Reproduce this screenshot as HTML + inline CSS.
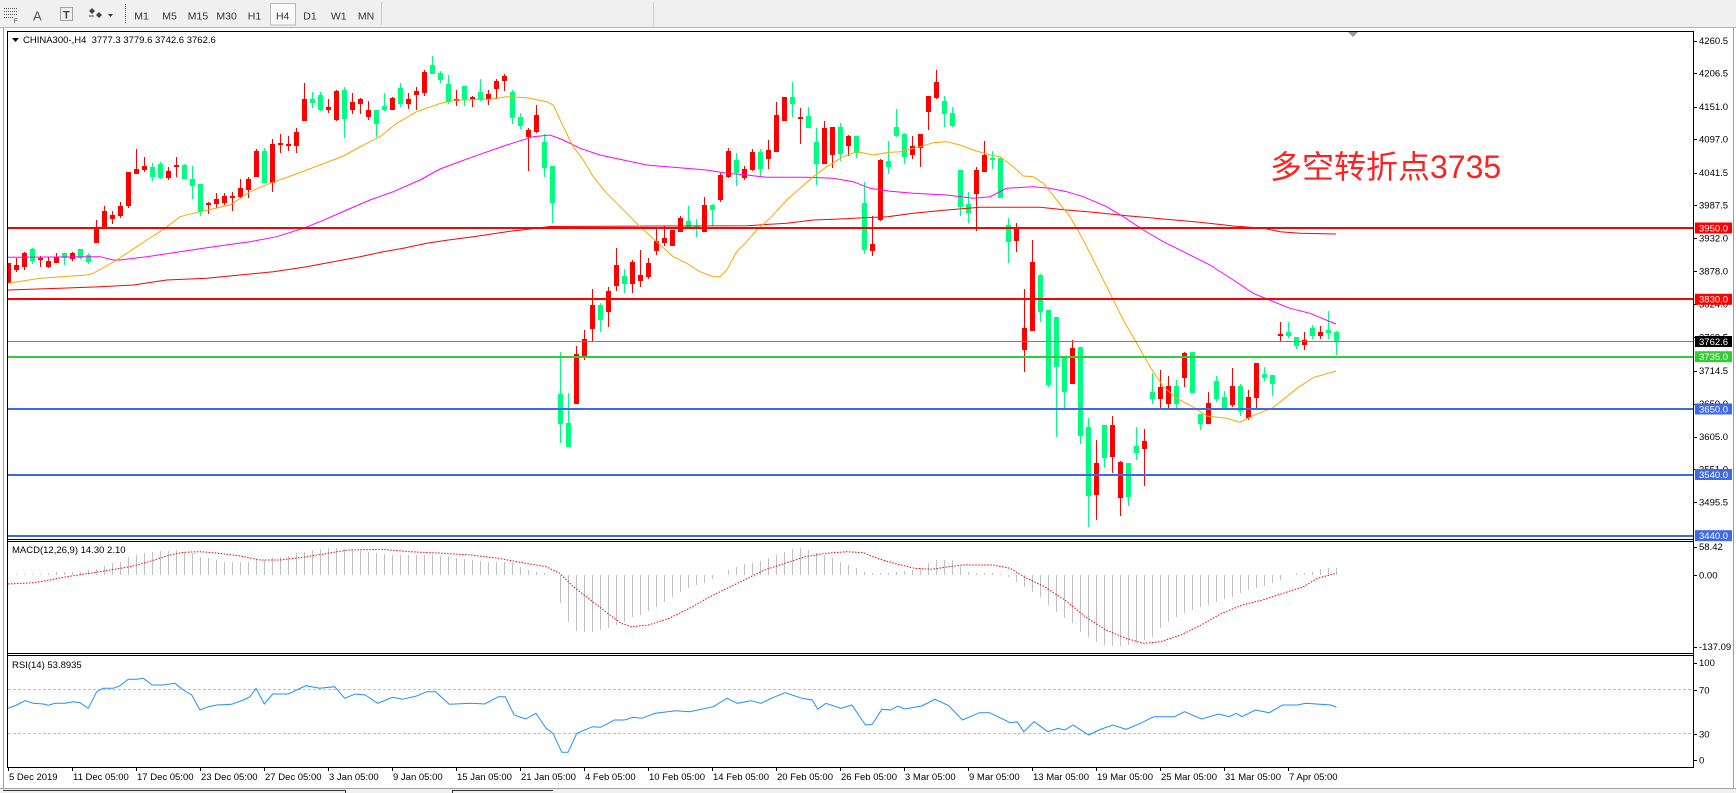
<!DOCTYPE html>
<html><head><meta charset="utf-8">
<style>
html,body{margin:0;padding:0;background:#fff;overflow:hidden;}
svg{display:block;}
text{font-family:"Liberation Sans",sans-serif;}
.ax{font-size:9.5px;fill:#000;}
.tb{font-size:10.5px;fill:#333;text-anchor:middle;}
.bx{font-size:9.5px;fill:#fff;}
</style></head><body>
<svg id="c" width="1736" height="793" viewBox="0 0 1736 793" xmlns="http://www.w3.org/2000/svg">
<defs>
<clipPath id="cm"><rect x="8" y="32" width="1685" height="507"/></clipPath>
<clipPath id="cd"><rect x="8" y="542" width="1685" height="111"/></clipPath>
<clipPath id="cr"><rect x="8" y="656" width="1685" height="111"/></clipPath>
</defs>
<rect x="0" y="0" width="1736" height="793" fill="#fff"/>
<!-- toolbar -->
<rect x="0" y="0" width="1736" height="28" fill="#f0f0f0"/>
<rect x="0" y="27" width="1736" height="1" fill="#b4b4b4"/>
<rect x="653" y="2" width="1" height="24" fill="#d0d0d0"/>
<g stroke="#555" stroke-width="1" stroke-dasharray="1,1" shape-rendering="crispEdges">
<line x1="4" y1="8.5" x2="17" y2="8.5"/><line x1="4" y1="11.5" x2="17" y2="11.5"/><line x1="4" y1="14.5" x2="17" y2="14.5"/><line x1="4" y1="17.5" x2="13" y2="17.5"/>
<rect x="60.5" y="7.5" width="12" height="13" fill="none"/>
<line x1="125.5" y1="4" x2="125.5" y2="24"/>
</g>
<text x="14" y="23" style="font-size:6px;fill:#333">F</text>
<text x="33" y="20.5" style="font-size:13px;fill:#555">A</text>
<text x="63" y="18.5" style="font-size:11px;fill:#444;font-weight:bold">T</text>
<polygon points="92,8 95,11 92,14 89,11" fill="#444"/>
<polygon points="99,12 102,15 99,18 96,15" fill="#444"/>
<line x1="89" y1="16" x2="94" y2="16" stroke="#444"/>
<polygon points="108,14 113,14 110.5,17" fill="#333"/>
<rect x="270.5" y="3.5" width="25" height="21.5" fill="#fafafa" stroke="#b8b8b8"/>
<rect x="381" y="2" width="1" height="23" fill="#c8c8c8"/>
<text class="tb" x="141.6" y="19.3">M1</text>
<text class="tb" x="169.5" y="19.3">M5</text>
<text class="tb" x="198" y="19.3">M15</text>
<text class="tb" x="226.6" y="19.3">M30</text>
<text class="tb" x="254.5" y="19.3">H1</text>
<text class="tb" x="282.7" y="19.3">H4</text>
<text class="tb" x="310" y="19.3">D1</text>
<text class="tb" x="338.7" y="19.3">W1</text>
<text class="tb" x="366" y="19.3">MN</text>
<!-- window borders -->
<rect x="3" y="28" width="1" height="760" fill="#a0a0a0"/>
<rect x="1733" y="28" width="1" height="760" fill="#a0a0a0"/>
<rect x="0" y="788" width="1736" height="5" fill="#f0f0f0"/>
<rect x="0" y="788" width="1736" height="1" fill="#a0a0a0"/>
<rect x="3" y="790" width="343" height="1" fill="#333"/>
<rect x="345" y="790" width="1" height="3" fill="#333"/>
<rect x="452" y="790" width="101" height="1" fill="#333"/>
<rect x="452" y="790" width="1" height="3" fill="#333"/>

<!-- main pane content -->
<g clip-path="url(#cm)" id="main" shape-rendering="crispEdges"></g>
<g clip-path="url(#cm)" id="mas" fill="none" stroke-width="1"></g>
<g clip-path="url(#cm)" shape-rendering="crispEdges">
<rect x="8" y="227" width="1685" height="2" fill="#FF0000"/>
<rect x="8" y="298" width="1685" height="2" fill="#FF0000"/>
<rect x="8" y="341" width="1685" height="1" fill="#808080"/>
<rect x="8" y="356" width="1685" height="2" fill="#32CD32"/>
<rect x="8" y="408" width="1685" height="2" fill="#4169E1"/>
<rect x="8" y="474" width="1685" height="2" fill="#4169E1"/>
<rect x="8" y="535" width="1685" height="2" fill="#4169E1"/>
</g>
<polygon points="1348,32 1358,32 1353,37" fill="#999"/>
<text x="1270" y="178" style="font-family:'Liberation Sans','Noto Sans CJK SC',sans-serif;font-size:32px;fill:#FF2020">多空转折点3735</text>
<polygon points="12,38 19,38 15.5,42" fill="#000"/>
<text class="ax" x="23" y="43">CHINA300-,H4&#160; 3777.3 3779.6 3742.6 3762.6</text>

<!-- MACD -->
<g clip-path="url(#cd)" id="macd"></g>
<text class="ax" x="12" y="552.8">MACD(12,26,9) 14.30 2.10</text>
<!-- RSI -->
<g clip-path="url(#cr)" id="rsi">
<line x1="8" y1="689.5" x2="1693" y2="689.5" stroke="#c0c0c0" stroke-dasharray="3,2"/>
<line x1="8" y1="733.5" x2="1693" y2="733.5" stroke="#c0c0c0" stroke-dasharray="3,2"/>
</g>
<text class="ax" x="12" y="667.8">RSI(14) 53.8935</text>

<!-- frames -->
<g fill="#000" shape-rendering="crispEdges">
<rect x="7" y="31" width="1687" height="1"/>
<rect x="7" y="539" width="1687" height="1"/>
<rect x="7" y="541" width="1687" height="1"/>
<rect x="7" y="653" width="1687" height="1"/>
<rect x="7" y="655" width="1687" height="1"/>
<rect x="7" y="767" width="1687" height="1"/>
<rect x="7" y="31" width="1" height="737"/>
<rect x="1693" y="31" width="1" height="737"/>
</g>
<g id="ticks" fill="#000" shape-rendering="crispEdges"></g>

<!-- price axis labels -->
<g class="ax">
<text class="ax" x="1699" y="44.1">4260.5</text>
<text class="ax" x="1699" y="76.7">4206.5</text>
<text class="ax" x="1699" y="110.1">4151.0</text>
<text class="ax" x="1699" y="142.7">4097.0</text>
<text class="ax" x="1699" y="176.1">4041.5</text>
<text class="ax" x="1699" y="208.7">3987.5</text>
<text class="ax" x="1699" y="241.7">3932.0</text>
<text class="ax" x="1699" y="274.7">3878.0</text>
<text class="ax" x="1699" y="307.4">3824.0</text>
<text class="ax" x="1699" y="340.4">3769.5</text>
<text class="ax" x="1699" y="374.1">3714.5</text>
<text class="ax" x="1699" y="407">3659.0</text>
<text class="ax" x="1699" y="440.1">3605.0</text>
<text class="ax" x="1699" y="472.7">3551.0</text>
<text class="ax" x="1699" y="505.7">3495.5</text>
<text class="ax" x="1699" y="550">58.42</text>
<text class="ax" x="1699" y="578.4">0.00</text>
<text class="ax" x="1699" y="650.1">-137.09</text>
<text class="ax" x="1699" y="666.1">100</text>
<text class="ax" x="1699" y="693.4">70</text>
<text class="ax" x="1699" y="737.4">30</text>
<text class="ax" x="1699" y="763.4">0</text>
</g>
<rect x="1695" y="222.5" width="37" height="11" fill="#FF0000"/><text class="bx" x="1699" y="231.4">3950.0</text>
<rect x="1695" y="293.8" width="37" height="11" fill="#FF0000"/><text class="bx" x="1699" y="302.7">3830.0</text>
<rect x="1695" y="336" width="37" height="11" fill="#000"/><text class="bx" x="1699" y="344.9">3762.6</text>
<rect x="1695" y="351.2" width="37" height="11" fill="#32CD32"/><text class="bx" x="1699" y="360.1">3735.0</text>
<rect x="1695" y="403.5" width="37" height="11" fill="#4169E1"/><text class="bx" x="1699" y="412.4">3650.0</text>
<rect x="1695" y="469" width="37" height="11" fill="#4169E1"/><text class="bx" x="1699" y="477.9">3540.0</text>
<rect x="1695" y="530.2" width="37" height="11" fill="#4169E1"/><text class="bx" x="1699" y="539.1">3440.0</text>

<!-- time labels -->
<g class="ax">
<text class="ax" x="9" y="780.2">5 Dec 2019</text>
<text class="ax" x="73" y="780.2">11 Dec 05:00</text>
<text class="ax" x="137" y="780.2">17 Dec 05:00</text>
<text class="ax" x="201" y="780.2">23 Dec 05:00</text>
<text class="ax" x="265" y="780.2">27 Dec 05:00</text>
<text class="ax" x="329" y="780.2">3 Jan 05:00</text>
<text class="ax" x="393" y="780.2">9 Jan 05:00</text>
<text class="ax" x="457" y="780.2">15 Jan 05:00</text>
<text class="ax" x="521" y="780.2">21 Jan 05:00</text>
<text class="ax" x="585" y="780.2">4 Feb 05:00</text>
<text class="ax" x="649" y="780.2">10 Feb 05:00</text>
<text class="ax" x="713" y="780.2">14 Feb 05:00</text>
<text class="ax" x="777" y="780.2">20 Feb 05:00</text>
<text class="ax" x="841" y="780.2">26 Feb 05:00</text>
<text class="ax" x="905" y="780.2">3 Mar 05:00</text>
<text class="ax" x="969" y="780.2">9 Mar 05:00</text>
<text class="ax" x="1033" y="780.2">13 Mar 05:00</text>
<text class="ax" x="1097" y="780.2">19 Mar 05:00</text>
<text class="ax" x="1161" y="780.2">25 Mar 05:00</text>
<text class="ax" x="1225" y="780.2">31 Mar 05:00</text>
<text class="ax" x="1289" y="780.2">7 Apr 05:00</text>
</g>
</svg>
<script>
(function(){
const NS='http://www.w3.org/2000/svg';
function el(p,t,a){const e=document.createElementNS(NS,t);for(const k in a)e.setAttribute(k,a[k]);p.appendChild(e);return e;}
const C=[
[1,263.3,281.7,263.3,281.7],[1,265.3,269.3,258.3,270.7],[1,252.7,266,251.7,268.7],[0,249.3,260,248,263.3],[1,258.3,259.3,256,266],
[1,260.7,266,256.7,266.7],[1,256.7,261.7,252.7,261.7],[0,253.3,257.3,253.3,264],[1,253.3,258.3,251.7,260],[0,249.3,256.7,249.3,258.3],
[0,255,260.7,252.7,262.7],[1,228.3,241.7,220,241.7],[1,211,228.3,205.7,228.3],[1,215,217.7,210.7,222.7],[1,205.7,215,202.3,216.7],
[1,172,205,172,206.7],[1,169,172.7,148.7,173.3],[1,166,168.7,157,170.7],[0,167,176,162.7,180],[0,164,177,162.3,177.7],
[1,171,176.7,166.7,178.7],[1,165,166.3,156.7,176],[0,165,177.7,164.3,177.7],[0,179,185,166,197.7],[0,184,211,184,215],
[1,202.7,204.3,201.7,212.7],[1,199,203.3,193.3,206.7],[1,196,202.3,192.7,204.3],[1,196,196.7,191.7,210],[1,188,195.7,179,196.7],
[1,179,189,177,196.7],[1,150.7,176,149,176],[0,151,181.7,147.7,181.7],[1,144,182,139,190.7],[1,143.3,144.3,134.3,151.7],
[1,144.3,145.3,136,150],[1,132,144.7,128.3,151.7],[1,99,120,82.7,120],[0,99,101.7,91.7,106.7],[0,95,109.3,91.7,110],
[1,106.7,109,99,111.7],[1,90.7,119.3,90,120],[0,90,117.7,87.3,136.7],[1,101.7,109.3,93.3,113.3],[1,99.3,102.7,97.7,112.7],
[1,110,116,101,119],[0,110,122.7,110,136],[0,106,109.3,92.7,110],[1,97.7,108.7,96.7,108.7],[0,88.3,102.7,83.3,106],
[1,99.3,102.7,93.3,108.3],[1,90.7,94,86.7,109],[1,71.7,92.3,70,95],[0,65,73.3,55.7,73.3],[0,72.7,79,70.7,81.7],
[0,84,101,75,103.3],[1,99,100.3,90,105],[0,86,99.3,86,105],[1,96.7,98.3,96,106],[0,92,99.3,79,100],
[1,94,97.7,90,104],[1,81,87.7,79.3,98.3],[1,75.7,80,74,90],[0,92,116.7,90,123.3],[0,117.3,125,113.3,127.7],
[1,130,136,128.3,170],[1,115,131,105,131.7],[0,142,166.7,134,176],[0,166,201.7,166,222],[0,394,423.3,352,441.7],
[0,423.3,445.7,393.3,445.7],[1,354,403.3,346,403.3],[1,339.3,356.7,330,359],[1,305,327.7,289.3,340],[0,305,319,303.3,330.7],
[1,291,310.7,286.7,325.7],[1,265,285,248.3,290],[0,276,283.3,269,292.3],[1,261.7,282.7,260,291.7],[1,275,280,250,286],
[1,262.7,276,258.3,278.3],[1,241,250,228.3,254.3],[1,237.7,241.7,225.7,245],[1,230,245,230,245],[1,217.7,230.7,216,230.7],
[0,221,226.7,205.7,226.7],[0,225.7,226.7,219.3,236],[1,205,230.7,196.7,230.7],[0,205,209,204,225],[1,175,199,173.3,200.7],
[1,151,175.7,148.3,176.7],[0,160,172.3,152.7,185],[1,169,176.7,166,179.3],[1,152,169,149.3,170],[0,152,168.3,149.3,175],
[1,150,157.7,140,167.7],[1,115,150.7,102.3,150.7],[1,97.3,120,97.3,120],[0,97.3,102.7,82.3,115.7],[1,117.3,118,108.3,142.7],
[0,116,126.7,107.3,126.7],[0,142,162.7,128.3,184],[1,128.3,162.7,121,162.7],[1,127.3,154,127.3,166.7],[0,127.3,152.7,123.3,160],
[1,136,145,135,155],[0,136,151.7,136,156.7],[0,203.3,249,182.3,252.7],[1,244,250,216,255],[1,160,219,159,220],
[0,161,166,141,172.7],[0,127.3,135,109.3,136],[0,134,155.7,132.7,162.7],[1,146,154,136,158.3],[1,134,147.3,134,166],
[1,96,111,96,129],[1,82,96.7,70,97.7],[0,101,113.3,96,125.7],[0,112.7,125,106.7,126],[0,170,205.7,170,215],
[0,204,211.7,192.3,221.7],[1,170,192.7,167.3,230],[1,155,170.7,141,170.7],[0,157.7,159.3,150.7,168.3],[0,158.3,197.3,158.3,197.3],
[0,225,240.7,218.3,261.7],[1,228.3,240,223.3,250.7],[1,327.7,349,289.3,371],[1,261.7,330,240,330],[0,275,310.7,274,320.7],
[0,310,384,310,386],[0,317.3,365.7,317.3,436],[0,357.3,391,357.3,408.3],[1,347.7,382.7,340,382.7],[0,347.3,435,346.7,442.7],
[0,426.7,495,418.3,525.7],[1,462.7,494,440,519],[0,425,456.7,425,466.7],[1,425,456,416,471.7],[1,461.7,496.7,460.7,515],
[0,463.3,495.7,463.3,505],[0,446,451.7,426.7,459],[1,441,447.7,429,485],[0,392.3,397.7,372.7,402.7],[1,387.3,398.3,370,408.3],
[1,386,403.3,376,408.3],[0,386,403.3,380,407.3],[1,352.7,376.7,351.7,386],[0,352.3,391.7,352.3,391.7],[0,414,423.3,414,429.3],
[1,402.7,423.3,392.3,423.3],[0,381,397.7,376,400.7],[0,397.3,407.3,391,408.3],[1,386,404.3,368.3,406],[0,386,410,384,415],
[1,397.3,417.3,390,419.3],[1,362.7,397.3,362.7,408.3],[0,374,376.7,367.3,380],[0,375,383.3,375,395],[1,333.7,334.7,322,341.3],
[0,332,334.7,322.3,336.7],[0,337,344.7,337,347.7],[1,340,344.3,331.7,349.3],[0,328,335,325,337.7],[1,332,334.7,326,337.7],
[0,330,332.3,311,337.7],[0,332,341.3,331,354]
];
let rw='',rb='',gw='',gb='';
C.forEach((d,i)=>{
  const cx=8+8*i;
  const wT=Math.round(d[3]),wB=Math.round(d[4]);
  let bT=Math.round(d[1]),bB=Math.round(d[2]); if(bB<bT)bB=bT;
  const w='M'+cx+','+wT+'h1V'+(wB+1)+'h-1Z';
  const b='M'+(cx-2)+','+bT+'h5V'+(bB+1)+'h-5Z';
  if(d[0]){rw+=w;rb+=b;}else{gw+=w;gb+=b;}
});
const gm=document.getElementById('main');
el(gm,'path',{d:gw+gb,fill:'#00FF7F'});
el(gm,'path',{d:rw+rb,fill:'#FF0000'});

function pl(parent,pts,color,extra){const a={points:pts.map(p=>p.join(',')).join(' '),fill:'none',stroke:color,'stroke-width':1};for(const k in (extra||{}))a[k]=extra[k];return el(parent,'polyline',a);}
const gmas=document.getElementById('mas');
const RED=[[8,290],[60,288.3],[100,286.7],[133.3,285],[166.7,280],[206.7,278.3],[240,275],[273.3,271.7],[306.7,266.7],[333.3,261.7],[360,256.7],[383.3,251.7],[403.3,248.3],[426.7,243.3],[448.3,240],[473.3,236.7],[506.7,231.7],[530,229],[550,226.5],[650,226],[746.7,225.7],[786.7,223.3],[813.3,220],[840,219],[863.3,217.7],[888,216.7],[913.3,213.3],[946.7,210],[980,207.3],[1040,207.3],[1066.7,210],[1093.3,212.3],[1126.7,215.7],[1163.3,219],[1200,222.3],[1233.3,226],[1263.3,228.3],[1280,231.7],[1300,233.3],[1336,234]];
const MAG=[[8,257.3],[100,256.7],[113.3,260],[120,260],[146.7,256.7],[180,251.7],[213.3,246.7],[250,241.7],[276.7,236.7],[303.3,228.3],[320,221.7],[346.7,210],[370,200],[393.3,191.7],[420,180],[440,169],[473.3,156.7],[506.7,145],[533.3,136.7],[550,135],[563.3,140],[580,148.3],[600,155],[623.3,160],[646.7,165],[673.3,167.3],[706.7,170],[726.7,173.3],[746.7,175],[766.7,177.3],[806.7,177.3],[833.3,178.3],[853.3,181.7],[870,188.3],[888,191],[913.3,193.3],[946.7,195],[973.3,198.3],[990,196.7],[1006.7,188.3],[1033.3,186.7],[1050,188.3],[1066.7,191.7],[1083.3,196.7],[1106.7,206.7],[1123.3,216.7],[1143.3,230],[1163.3,241.7],[1186.7,253.3],[1210,265],[1233.3,280],[1253.3,293.3],[1271.7,301],[1290,308.3],[1310,313.3],[1336,324]];
const ORA=[[8,283.3],[40,278.3],[86.7,275],[93.3,273.3],[116.7,260],[146.7,240],[165,228.3],[180,216.7],[200,211.7],[230,205],[250,191.7],[270,183.3],[293.3,175],[320,165],[343.3,156],[366.7,143.3],[380,136.7],[396.7,123.3],[416.7,111.7],[440,103.5],[456.7,100],[490,99.3],[506.7,96.7],[526.7,97.7],[546.7,101.7],[553.3,105],[563.3,126.7],[573.3,146.7],[583.3,160],[593.3,176.7],[606.7,193.3],[626.7,213.3],[640,226.7],[656.7,241.7],[673.3,256.7],[686.7,263.3],[700,271.7],[713.3,276.7],[720,276.7],[726.7,270],[736.7,251.7],[746.7,241.7],[756.7,230],[770,218.3],[786.7,200],[800,188.3],[813.3,176.7],[826.7,166.7],[843.3,156.7],[856.7,151.7],[873.3,155],[888,152.5],[900,151.7],[920,146.7],[933.3,142.7],[946.7,141.7],[960,145],[973.3,150],[990,155],[1000,156.7],[1013.3,166.7],[1023.3,176],[1033.3,176.7],[1043.3,183.3],[1056.7,200],[1070,216.7],[1083.3,240],[1096.7,266.7],[1110,293.3],[1123.3,320],[1136.7,343.3],[1150,366.7],[1163.3,386.7],[1176.7,398.3],[1193.3,407],[1206.7,416],[1226.7,418.3],[1240,422.3],[1253,415.7],[1273,407.7],[1297,388.3],[1313,377.7],[1336,371]];
pl(gmas,RED,'#FF0000');
pl(gmas,MAG,'#FF00FF');
pl(gmas,ORA,'#FFA500');

const H=[575,574.3,574,574.3,574,573.3,572.3,572.3,571.7,571.7,570,569.3,566,563.3,561.7,557.3,555,553.3,552,551,550.7,550,551.7,553.3,556.7,558.3,560,561.7,561.7,561.7,561.7,560,560,558.3,
556.7,556,553.3,551.7,550,549.3,548.3,548.3,549,549.3,550.7,551.7,553.3,554,555,555,555,555,555,555,556,556.7,558.3,559.3,560,561,561.7,561.7,561.7,563.3,566.7,570,571.7,573.3,575,
603.3,621.7,630.7,631.7,631.7,630,628.3,625,621.7,617.3,615,610.7,606.7,601.7,596.7,591.7,588.3,585,582.7,579.3,575.3,
570,566.7,564.3,562.7,561,558.3,555,551.7,549.3,548.3,550,553.3,555,558.3,561.7,565,568.3,571.7,573.3,573.3,573.3,571.7,571,570,568.3,563.3,560,560,560,566.7,571.7,572.7,573.3,573.3,574.3,
576.7,581.7,586.7,591.7,596.7,605,611.7,618.3,623.3,631.7,636.7,641.7,645,646,646,645,643.3,640,636.7,628.3,621.7,617.3,613.3,610,606.7,605,601.7,599.3,596.7,593.3,590,588.3,586,583.3,580,575,573.3,572.7,571.7,569.3,568.3,568.3];
let hp='';
H.forEach((y,i)=>{const x=8+8*i;let a=Math.round(Math.min(575,y)),b=Math.round(Math.max(575,y));if(b-a<1)return;hp+='M'+x+','+a+'h1V'+b+'h-1Z';});
const gd=document.getElementById('macd');
el(gd,'path',{d:hp,fill:'#C0C0C0','shape-rendering':'crispEdges'});
const SIG=[[8,584],[33.3,582.7],[50,580],[66.7,576.7],[90,573.3],[110,570],[130,566.7],[143.3,563.3],[156.7,559.3],[170,555],[183.3,552.3],[200,551.7],[220,553.3],[240,556],[260,560],[280,560],[307.3,556.7],[327.8,553.3],[348.2,550],[382.4,549.3],[409.7,551.7],[443.8,553.3],[471.1,555],[498.4,558.3],[525.7,563.3],[546.1,566.7],[559.8,573.3],[573.4,586.7],[590.5,600],[607.6,613.3],[621.2,623.3],[631.4,626.7],[648.5,625],[669,618.3],[689.5,608.3],[709.9,596.7],[730.4,586.7],[750.9,576.7],[764.5,570],[785,563.3],[805.5,556.7],[826,553.3],[846.4,551.7],[863.4,552.7],[877.1,558.3],[894.2,563.3],[914.6,568.3],[931.7,569.3],[948.7,566.7],[962.4,565],[993.1,565],[1010.2,568.3],[1023.8,576.7],[1044.3,586.7],[1064.8,600],[1085.2,616.7],[1105.7,630],[1126.2,638.3],[1143.2,643.3],[1160.3,641.7],[1180.8,635],[1201.2,625],[1221.7,613.3],[1242.2,605],[1262.6,600],[1283.1,593.3],[1303.6,586.7],[1317.3,578.3],[1336.4,573.3]];
pl(gd,SIG,'#FF0000',{'stroke-dasharray':'1.5,1.5'});

const RSI=[[8,708.3],[16.7,705],[25,700.7],[33.3,703.3],[43.3,704],[48.3,705.3],[55,703.3],[65,703.3],[73.3,701.7],[80,702.7],[88.3,708.3],[96.7,691.7],[103.3,688.3],[113.3,688.3],[120,685.7],[128.3,679.3],[136.7,679.3],[143.3,678.3],[152.3,685],[163.3,685],[175,683.3],[183.3,690],[191.7,695],[200,710],[208.3,706.7],[216.7,705],[231.7,704.3],[243.3,700],[250,696.7],[256,688.3],[264.3,704],[272.7,694],[288.3,694],[296.7,690],[305.9,685.7],[319.6,688.3],[334.6,686.7],[344.8,698.3],[355.1,694],[365.3,695],[377.6,703.3],[392.6,697.3],[402.8,699.3],[416.5,696],[426.7,691.7],[435.6,691.7],[449.2,704.3],[471.1,703.3],[484.7,704],[498.4,696.7],[505.2,696.7],[514.1,715],[525.7,719],[535.9,713.3],[546.1,728.3],[553,733.3],[561.8,752.3],[568,752.3],[576.8,733.3],[592.5,726.7],[600.7,727.3],[614.4,720],[624.6,720],[633.5,717.3],[641.7,718.3],[655.3,713.3],[675.8,710.7],[689.5,711.7],[713.3,706.7],[727,698.3],[737.2,703.3],[750.9,700.7],[761.1,703.3],[771.3,698.3],[785,692.7],[802,698.3],[812.3,700],[817.7,709.3],[825.9,703.3],[840.9,708.3],[851.8,705],[865.5,725],[872.3,724.3],[881.9,709.3],[890.8,710],[897.6,706],[904.4,709],[921.5,706],[935.1,699.3],[948.7,705.7],[962.4,720],[979.5,712.7],[989.7,712.7],[1010.2,722.7],[1017,721.7],[1023.8,731.7],[1034.1,721.7],[1047.7,731.7],[1057.9,728.3],[1064.8,730],[1073,725],[1088.7,735],[1098.9,730],[1112.6,725],[1126.2,729.3],[1140.5,723.3],[1153.8,716.7],[1174.3,716.7],[1184.5,711.7],[1201.6,719],[1218.6,714],[1228.9,716.7],[1236.4,713.3],[1241.8,716.7],[1255.5,710],[1269.2,712.7],[1282.8,705],[1297.8,705],[1305.4,703.3],[1330.9,705],[1336.4,707.3]];
pl(document.getElementById('rsi'),RSI,'#1E90FF');

const gt=document.getElementById('ticks');
for(let k=0;k<=20;k++){el(gt,'rect',{x:8+64*k,y:767,width:1,height:4});}
[40.7,73.3,106.7,139.3,172.7,205.3,238.3,271.3,304,337,370.7,403.6,436.7,469.3,502.3,546.7,575,646.7,662.7,690,734,760].forEach(y=>{el(gt,'rect',{x:1693,y:Math.round(y),width:4,height:1});});
})();
</script>
</body></html>
